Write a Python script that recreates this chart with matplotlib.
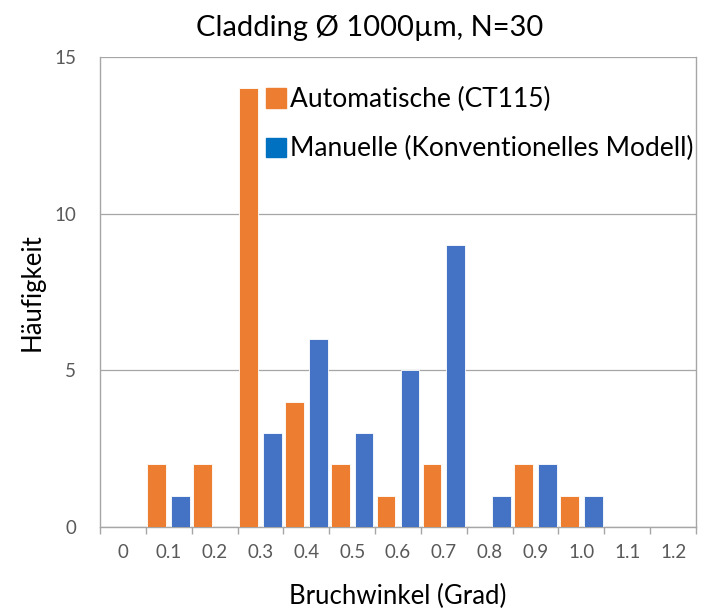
import numpy as np
import matplotlib
matplotlib.use("Agg")
from matplotlib import pyplot as plt
from matplotlib.patches import Patch

categories = ["0", "0.1", "0.2", "0.3", "0.4", "0.5", "0.6", "0.7", "0.8", "0.9", "1.0", "1.1", "1.2"]
autoCounts = [0, 2, 2, 14, 4, 2, 1, 2, 0, 2, 1, 0, 0]
manualCounts = [0, 1, 0, 3, 6, 3, 5, 9, 1, 2, 1, 0, 0]
seriesNames = ["Automatische (CT115)", "Manuelle (Konventionelles Modell)"]

plt.rcParams['font.family'] = ['Lato', 'DejaVu Sans']

W, H = 704, 613
fig = plt.figure(figsize=(W / 100, H / 100), dpi=100)
ax = fig.add_axes([100 / W, 1 - 527 / H, 596 / W, 470 / H])

x = np.arange(len(categories))
barW = 0.41
ax.bar(x - 0.26, autoCounts, barW, color='#ED7D31', edgecolor='white', linewidth=0.6, zorder=3)
ax.bar(x + 0.26, manualCounts, barW, color='#4472C4', edgecolor='white', linewidth=0.6, zorder=3)

ax.set_xlim(-0.5, len(categories) - 0.5)
ax.set_ylim(0, 15)

#category labels in the middle, tick marks on the borders
ax.set_xticks(np.arange(len(categories) + 1) - 0.5)
ax.set_xticklabels([])
ax.set_xticks(x, minor=True)
ax.set_xticklabels(categories, minor=True)
ax.tick_params(axis='x', which='major', length=5, color='#a6a6a6', width=1)
ax.tick_params(axis='x', which='minor', length=0, pad=12, labelsize=13.5, labelcolor='#595959')

ax.set_yticks([0, 5, 10, 15])
ax.tick_params(axis='y', length=0, pad=17, labelsize=13.5, labelcolor='#595959')
ax.grid(axis='y', color='#a6a6a6', linewidth=0.9, zorder=0)

for s in ['left', 'bottom', 'right']:
    ax.spines[s].set_color('#a6a6a6')
    ax.spines[s].set_linewidth(1)
ax.spines['top'].set_visible(False)

ax.set_ylabel("Häufigkeit", fontsize=18.5, labelpad=7)
ax.set_xlabel("Bruchwinkel (Grad)", fontsize=18.5, labelpad=17)
fig.text(370 / W, 1 - 28 / H, "Cladding Ø 1000µm, N=30", fontsize=21, ha='center', va='center')

handles = [Patch(color='#ED7D31'), Patch(color='#0070C0')]
ax.legend(handles, seriesNames, loc='upper left', bbox_to_anchor=(266 / W, 1 - 87 / H),
          bbox_transform=fig.transFigure, frameon=False, fontsize=19,
          handlelength=0.75, handleheight=0.75, handletextpad=0.15, labelspacing=0.92,
          borderaxespad=0, borderpad=0)

fig.savefig("out.png", dpi=100)
